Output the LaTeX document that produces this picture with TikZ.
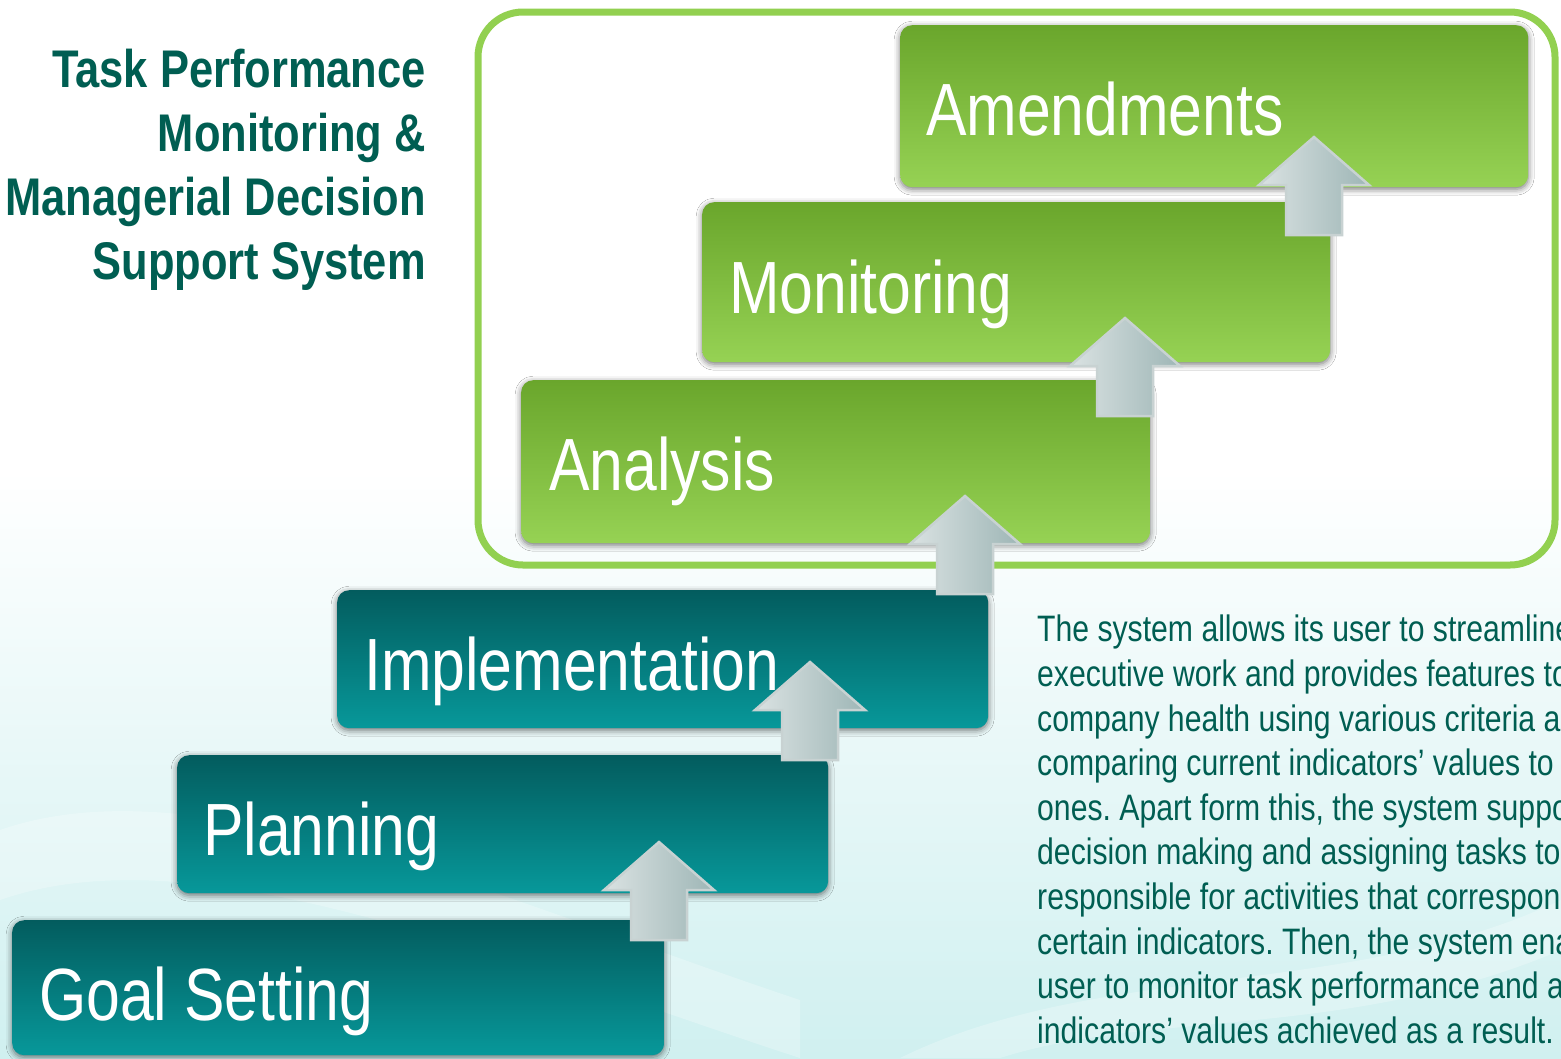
\documentclass[tikz,border=0pt]{standalone}
\usepackage{fontspec}
\setmainfont[FakeStretch=0.82]{Liberation Sans}
\usetikzlibrary{shadows.blur}
\definecolor{titlecol}{RGB}{0,94,82}
\definecolor{frameg}{RGB}{146,208,80}
\definecolor{gtop}{RGB}{106,166,44}
\definecolor{gbot}{RGB}{150,210,84}
\definecolor{ttop}{RGB}{3,92,94}
\definecolor{tbot}{RGB}{7,152,154}
\definecolor{bgcy}{RGB}{208,240,240}
\definecolor{arrl}{RGB}{218,226,226}
\definecolor{arrd}{RGB}{158,182,182}
\definecolor{arrb}{RGB}{200,210,210}
\tikzset{
  boxshadow/.style={blur shadow={shadow xshift=0pt, shadow yshift=-2pt, shadow blur radius=6pt, shadow opacity=55}},
  greenbox/.style={anchor=north west, rounded corners=12pt, inner sep=0pt, top color=gtop, bottom color=gbot, boxshadow},
  tealbox/.style={anchor=north west, rounded corners=12pt, inner sep=0pt, top color=ttop, bottom color=tbot, boxshadow},
  steplabel/.style={anchor=base west, inner sep=0pt, text=white, font=\fontsize{74}{80}\selectfont},
  uparrow/.style={left color=arrl, right color=arrd, draw=arrb, line width=2.5pt, line join=miter},
}
\newcommand{\stepup}[3]{%
  \coordinate (#1) at (#2,#3);
  \path[uparrow] (#1) -- ++(55,48) -- ++(-27,0) -- ++(0,50) -- ++(-56,0) -- ++(0,-50) -- ++(-27,0) -- cycle;
}
\frenchspacing
\begin{document}
\begin{tikzpicture}[x=1pt,y=-1pt]
\useasboundingbox (0,0) rectangle (1561,1058);
\clip (0,0) rectangle (1561,1058);
% background
\fill[white] (0,0) rectangle (1561,1058);
\fill[top color=white, bottom color=bgcy] (0,470) rectangle (1561,1058);
\fill[white, opacity=0.25] (0,830) .. controls (200,760) and (500,900) .. (800,1000) -- (800,1058) .. controls (500,960) and (200,830) .. (0,900) -- cycle;
\fill[white, opacity=0.25] (900,1058) .. controls (1100,960) and (1350,1000) .. (1561,900) -- (1561,950) .. controls (1350,1040) and (1150,1010) .. (1000,1058) -- cycle;

% title
\node[anchor=north east, inner sep=0pt, align=right, text=titlecol,
      font=\bfseries\fontsize{53}{64}\selectfont] (title) at (426,49)
  {Task Performance\\Monitoring \&\\Managerial Decision\\Support System};

% frame
\draw[frameg, line width=7pt, rounded corners=45pt] (478,12) rectangle (1555,565);

% boxes
\node[greenbox, minimum width=628pt, minimum height=162pt] (amend) at (900,25) {};
\node[greenbox, minimum width=628pt, minimum height=160pt] (monit) at (702,202) {};
\node[greenbox, minimum width=629pt, minimum height=163pt] (anal) at (521,380) {};
\node[tealbox, minimum width=651pt, minimum height=138pt] (impl) at (337,590) {};
\node[tealbox, minimum width=651pt, minimum height=138pt] (plan) at (177,755) {};
\node[tealbox, minimum width=652pt, minimum height=135pt] (goal) at (12,920) {};

% labels
\node[steplabel] (lamend) at (926,135) {Amendments};
\node[steplabel] (lmonit) at (729,313) {Monitoring};
\node[steplabel] (lanal) at (549,490) {Analysis};
\node[steplabel] (limpl) at (364,690) {Implementation};
\node[steplabel] (lplan) at (203,855) {Planning};
\node[steplabel] (lgoal) at (39,1020) {Goal Setting};

% arrows
\stepup{a1}{659}{842}
\stepup{a2}{810}{662}
\stepup{a3}{965}{496}
\stepup{a4}{1125}{318}
\stepup{a5}{1314}{137}

% paragraph
\node[anchor=north west, inner sep=0pt, align=left, text=titlecol,
      font=\fontsize{36.8}{44.6}\selectfont] (desc) at (1037,615)
  {The system allows its user to streamline\\
   executive work and provides features to\\
   company health using various criteria and\\
   comparing current indicators’ values to target\\
   ones. Apart form this, the system supports\\
   decision making and assigning tasks to those\\
   responsible for activities that correspond to\\
   certain indicators. Then, the system enables\\
   user to monitor task performance and analyze\\
   indicators’ values achieved as a result.};
\end{tikzpicture}
\end{document}
